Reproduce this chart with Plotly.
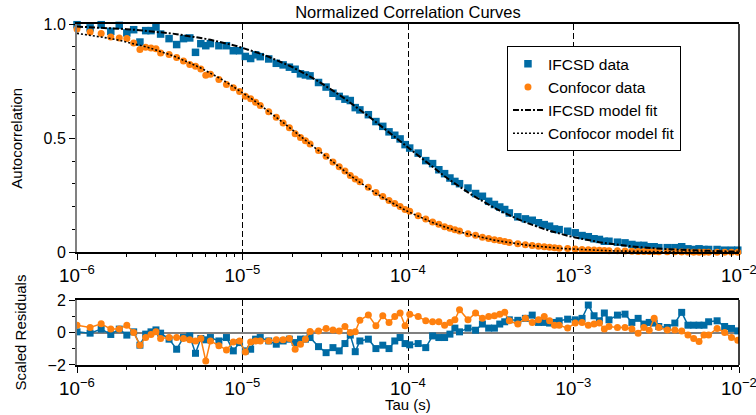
import plotly.graph_objects as go

# ---------------- data ----------------
tau_us = [1.0, 1.2, 1.4, 1.6, 1.8, 2.0, 2.2, 2.4, 2.6, 2.8, 3.0, 3.2,
          3.6, 4.0, 4.4, 4.8, 5.2, 5.6, 6.0, 6.4,
          7.2, 8.0, 8.8, 9.6, 10.4, 11.2, 12.0, 12.8,
          14.4, 16.0, 17.6, 19.2, 20.8, 22.4, 24.0, 25.6,
          28.8, 32.0, 35.2, 38.4, 41.6, 44.8, 48.0, 51.2,
          57.6, 64.0, 70.4, 76.8, 83.2, 89.6, 96.0, 102.4,
          115.2, 128.0, 140.8, 153.6, 166.4, 179.2, 192.0, 204.8,
          230.4, 256.0, 281.6, 307.2, 332.8, 358.4, 384.0, 409.6,
          460.8, 512.0, 563.2, 614.4, 665.6, 716.8, 768.0, 819.2,
          921.6, 1024.0, 1126.4, 1228.8, 1331.2, 1433.6, 1536.0, 1638.4,
          1843.2, 2048.0, 2252.8, 2457.6, 2662.4, 2867.2, 3072.0, 3276.8,
          3686.4, 4096.0, 4505.6, 4915.2, 5324.8, 5734.4, 6144.0, 6553.6,
          7372.8, 8192.0, 9011.2, 9830.4]

ifcsd_data = [0.997, 0.983, 0.997, 0.968, 0.994, 0.961, 0.975, 0.921, 0.971, 0.971, 0.987, 0.956,
              0.936, 0.910, 0.936, 0.939, 0.876, 0.914, 0.905, 0.914,
              0.905, 0.905, 0.883, 0.883, 0.858, 0.849, 0.865, 0.857,
              0.847, 0.828, 0.821, 0.811, 0.802, 0.782, 0.777, 0.773,
              0.744, 0.724, 0.697, 0.683, 0.671, 0.665, 0.634, 0.624,
              0.603, 0.573, 0.552, 0.528, 0.513, 0.497, 0.472, 0.457,
              0.435, 0.402, 0.389, 0.362, 0.345, 0.326, 0.311, 0.301,
              0.282, 0.258, 0.246, 0.224, 0.210, 0.199, 0.188, 0.173,
              0.156, 0.147, 0.141, 0.130, 0.122, 0.115, 0.103, 0.100,
              0.093, 0.086, 0.074, 0.069, 0.060, 0.057, 0.049, 0.049,
              0.045, 0.042, 0.035, 0.031, 0.031, 0.025, 0.025, 0.021,
              0.021, 0.021, 0.025, 0.016, 0.013, 0.016, 0.013, 0.013,
              0.013, 0.010, 0.010, 0.010]

confocor_data = [0.978, 0.965, 0.958, 0.943, 0.939, 0.936, 0.917, 0.888, 0.898, 0.895, 0.892, 0.873,
                 0.867, 0.853, 0.838, 0.823, 0.815, 0.803, 0.776, 0.780,
                 0.757, 0.735, 0.721, 0.705, 0.684, 0.673, 0.657, 0.643,
                 0.616, 0.592, 0.567, 0.546, 0.520, 0.503, 0.489, 0.475,
                 0.446, 0.421, 0.396, 0.375, 0.357, 0.337, 0.322, 0.310,
                 0.286, 0.262, 0.245, 0.227, 0.214, 0.201, 0.188, 0.180,
                 0.161, 0.146, 0.133, 0.123, 0.113, 0.106, 0.099, 0.094,
                 0.082, 0.075, 0.067, 0.061, 0.056, 0.052, 0.048, 0.044,
                 0.038, 0.034, 0.030, 0.027, 0.025, 0.023, 0.021, 0.019,
                 0.017, 0.015, 0.013, 0.012, 0.011, 0.010, 0.009, 0.008,
                 0.007, 0.006, 0.0055, 0.0045, 0.0045, 0.004, 0.0045, 0.0035,
                 0.003, 0.0028, 0.0025, 0.002, 0.0015, 0.0012, 0.0014, 0.0013,
                 0.0014, 0.001, 0.0008, 0.0006]

ifcsd_fit = [0.9886, 0.9863, 0.9840, 0.9818, 0.9796, 0.9774, 0.9751, 0.9730, 0.9707, 0.9686, 0.9664, 0.9642,
             0.9599, 0.9556, 0.9514, 0.9473, 0.9431, 0.9391, 0.9349, 0.9309,
             0.9229, 0.9150, 0.9073, 0.8996, 0.8922, 0.8848, 0.8776, 0.8705,
             0.8566, 0.8431, 0.8300, 0.8173, 0.8050, 0.7931, 0.7815, 0.7701,
             0.7485, 0.7281, 0.7086, 0.6902, 0.6727, 0.6560, 0.6401, 0.6249,
             0.5966, 0.5707, 0.5469, 0.5249, 0.5046, 0.4857, 0.4682, 0.4518,
             0.4222, 0.3961, 0.3729, 0.3521, 0.3335, 0.3167, 0.3014, 0.2874,
             0.2630, 0.2421, 0.2242, 0.2086, 0.1949, 0.1828, 0.1720, 0.1624,
             0.1458, 0.1321, 0.1206, 0.1108, 0.1023, 0.0950, 0.0885, 0.0828,
             0.0732, 0.0654, 0.0589, 0.0535, 0.0489, 0.0450, 0.0415, 0.0386,
             0.0336, 0.0296, 0.0264, 0.0238, 0.0215, 0.0196, 0.0180, 0.0166,
             0.0143, 0.0124, 0.0110, 0.0098, 0.0088, 0.0080, 0.0072, 0.0066,
             0.0057, 0.0049, 0.0043, 0.0038]

confocor_fit = [0.9592, 0.9514, 0.9438, 0.9363, 0.9288, 0.9215, 0.9143, 0.9073, 0.9003, 0.8934, 0.8867, 0.8800,
                0.8670, 0.8543, 0.8420, 0.8300, 0.8184, 0.8071, 0.7960, 0.7853,
                0.7647, 0.7451, 0.7264, 0.7087, 0.6917, 0.6755, 0.6601, 0.6453,
                0.6176, 0.5922, 0.5686, 0.5469, 0.5267, 0.5078, 0.4903, 0.4739,
                0.4440, 0.4176, 0.3940, 0.3729, 0.3538, 0.3365, 0.3208, 0.3063,
                0.2809, 0.2592, 0.2405, 0.2242, 0.2098, 0.1971, 0.1857, 0.1755,
                0.1579, 0.1434, 0.1311, 0.1206, 0.1116, 0.1037, 0.0967, 0.0906,
                0.0803, 0.0719, 0.0649, 0.0589, 0.0541, 0.0499, 0.0461, 0.0429,
                0.0374, 0.0331, 0.0295, 0.0264, 0.0241, 0.0219, 0.0201, 0.0185,
                0.0160, 0.0140, 0.0123, 0.0110, 0.0099, 0.0089, 0.0082, 0.0075,
                0.0064, 0.0055, 0.0048, 0.0043, 0.0038, 0.0035, 0.0031, 0.0029,
                0.0024, 0.0021, 0.0018, 0.0016, 0.0015, 0.0013, 0.0012, 0.0011,
                0.0010, 0.0008, 0.0007, 0.0007]

ifcsd_resid = [0.04, -0.04, 0.21, -0.12, 0.21, -0.16, 0.04, -0.78, -0.10, 0.04, 0.16, -0.04,
               -0.41, -1.03, -0.31, -0.21, -1.28, -0.37, -0.45, -0.31,
               -0.52, -0.31, -1.13, -0.62, -1.13, -1.03, -0.41, -0.31,
               -0.52, -0.72, -0.52, -0.41, -0.62, -0.41, -0.41, -0.31,
               -0.87, -1.24, -0.93, -1.13, -0.68, -0.16, -1.18, -0.52,
               -0.41, -0.99, -0.78, -0.99, -0.52, -0.31, -0.68, -0.76,
               -0.68, -0.93, -0.21, -0.31, -0.31, -0.10, 0.27, 0.04,
               0.27, 0.14, 0.52, 0.27, 0.27, 0.52, 0.66, 0.78,
               0.75, 0.87, 1.07, 0.62, 0.62, 0.58, 0.62, 0.72,
               0.82, 0.78, 0.87, 1.69, 1.03, 0.72, 1.20, 0.78,
               1.07, 1.13, 0.62, 0.87, 0.52, 0.62, 0.58, 0.37,
               0.31, 0.58, 1.24, 0.45, 0.45, 0.45, 0.45, 0.66,
               0.72, 0.37, 0.25, 0.10]

confocor_resid = [0.45, 0.31, 0.54, 0.21, 0.21, 0.45, 0.00, -0.78, -0.31, -0.12, 0.04, -0.37,
                  -0.31, -0.31, -0.37, -0.45, -0.52, -0.37, -1.75, -0.52,
                  -0.82, -1.07, -0.58, -0.52, -1.20, -0.58, -0.52, -0.52,
                  -0.52, -0.45, -0.45, -0.37, -1.03, -0.72, -0.41, 0.06,
                  0.10, 0.25, 0.16, 0.10, 0.37, 0.00, 0.04, 0.76,
                  1.07, 0.41, 1.03, 0.62, 0.99, 1.20, 0.41, 1.13,
                  0.99, 0.72, 0.66, 0.66, 0.45, 0.62, 0.78, 1.40,
                  0.78, 1.20, 0.87, 0.99, 1.03, 1.13, 1.24, 0.72,
                  0.52, 0.87, 0.62, 0.78, 0.99, 0.72, 0.45, 0.45,
                  0.27, 0.58, 0.62, 0.45, 0.52, 0.58, 0.21, 0.37,
                  0.31, 0.31, 0.21, -0.04, 0.31, 0.14, 0.87, 0.31,
                  0.16, 0.16, 0.10, -0.16, -0.37, -0.56, -0.16, -0.16,
                  0.25, 0.00, -0.31, -0.47]

tau = [t * 1e-6 for t in tau_us]

BLUE = "#006BA4"
ORANGE = "#FF800E"
FONT = "Liberation Sans, Arial, Helvetica, sans-serif"

fig = go.Figure()

# top panel
fig.add_trace(go.Scatter(x=tau, y=ifcsd_data, mode="markers", name="IFCSD data",
                         marker=dict(symbol="square", size=7.5, color=BLUE),
                         cliponaxis=False, xaxis="x", yaxis="y"))
fig.add_trace(go.Scatter(x=tau, y=confocor_data, mode="markers", name="Confocor data",
                         marker=dict(symbol="circle", size=7, color=ORANGE),
                         cliponaxis=False, xaxis="x", yaxis="y"))
fig.add_trace(go.Scatter(x=tau, y=ifcsd_fit, mode="lines", name="IFCSD model fit",
                         line=dict(color="black", width=2, dash="6px,2px,2px,2px"),
                         xaxis="x", yaxis="y"))
fig.add_trace(go.Scatter(x=tau, y=confocor_fit, mode="lines", name="Confocor model fit",
                         line=dict(color="black", width=1.6, dash="2px,2px"),
                         xaxis="x", yaxis="y"))

# residual panel
fig.add_trace(go.Scatter(x=tau, y=ifcsd_resid, mode="lines+markers", showlegend=False,
                         marker=dict(symbol="square", size=7, color=BLUE),
                         line=dict(color=BLUE, width=1.5),
                         xaxis="x2", yaxis="y2"))
fig.add_trace(go.Scatter(x=tau, y=confocor_resid, mode="lines+markers", showlegend=False,
                         marker=dict(symbol="circle", size=7, color=ORANGE),
                         line=dict(color=ORANGE, width=1.5),
                         xaxis="x2", yaxis="y2"))

xcommon = dict(type="log", range=[-6, -1.99999], dtick=1, exponentformat="power",
               showgrid=True, gridcolor="black", griddash="6px,3px", gridwidth=1,
               ticks="outside", ticklen=6, tickwidth=1, tickcolor="black",
               minor=dict(ticks="outside", ticklen=3, tickwidth=1, tickcolor="black",
                          showgrid=False),
               showline=True, linecolor="black", linewidth=1.5, mirror=True,
               zeroline=False, automargin=False, ticklabeloverflow="allow",
               tickfont=dict(size=15, color="black"))

fig.update_layout(
    width=756, height=415,
    margin=dict(l=77, r=17, t=24, b=50),
    paper_bgcolor="white", plot_bgcolor="white",
    font=dict(family=FONT, size=14, color="black"),
    title=dict(text="Normalized Correlation Curves", x=0.5, xref="paper",
               y=(415 - 12) / 415, yanchor="middle", font=dict(size=16.5)),
    xaxis=dict(domain=[0, 1], anchor="y", **xcommon),
    yaxis=dict(domain=[0.33, 1], anchor="x", range=[0, 1],
               tickvals=[0, 0.5, 1], ticktext=["0", "0.5", "1.0"],
               ticks="outside", ticklen=6, tickcolor="black",
               minor=dict(dtick=0.1, ticks="outside", ticklen=3, tickcolor="black", showgrid=False),
               showline=True, linecolor="#808080", linewidth=2,
               showgrid=False, zeroline=False, automargin=False,
               tickfont=dict(size=16),
               title=dict(text="Autocorrelation", standoff=17, font=dict(size=15))),
    xaxis2=dict(domain=[0, 1], anchor="y2", **xcommon),
    yaxis2=dict(domain=[0, 0.1906], anchor="x2", range=[-2, 2],
                tickvals=[-2, 0, 2],
                ticks="outside", ticklen=6, tickcolor="black",
                minor=dict(dtick=1, ticks="outside", ticklen=3, tickcolor="black", showgrid=False),
                showline=True, linecolor="#808080", linewidth=2,
                showgrid=False, zeroline=True, zerolinecolor="#808080", zerolinewidth=2,
                automargin=False, tickfont=dict(size=16),
                title=dict(text="Scaled Residuals", standoff=17, font=dict(size=15))),
    legend=dict(x=0.6495, y=0.935, xanchor="left", yanchor="top",
                bordercolor="black", borderwidth=1, bgcolor="white",
                font=dict(size=15.5), itemwidth=30, tracegroupgap=0),
    annotations=[
        dict(text="Tau (s)", xref="paper", yref="paper", x=0.5, y=(365 - 405) / 341,
             xanchor="center", yanchor="middle", showarrow=False, font=dict(size=15)),
    ],
    shapes=[
        dict(type="line", xref="x domain", yref="y domain", x0=1, x1=1, y0=0, y1=1,
             line=dict(color="black", width=1.5)),
        dict(type="line", xref="x2 domain", yref="y2 domain", x0=1, x1=1, y0=0, y1=1,
             line=dict(color="black", width=1.5)),
    ],
)

fig.write_html("out.html")
